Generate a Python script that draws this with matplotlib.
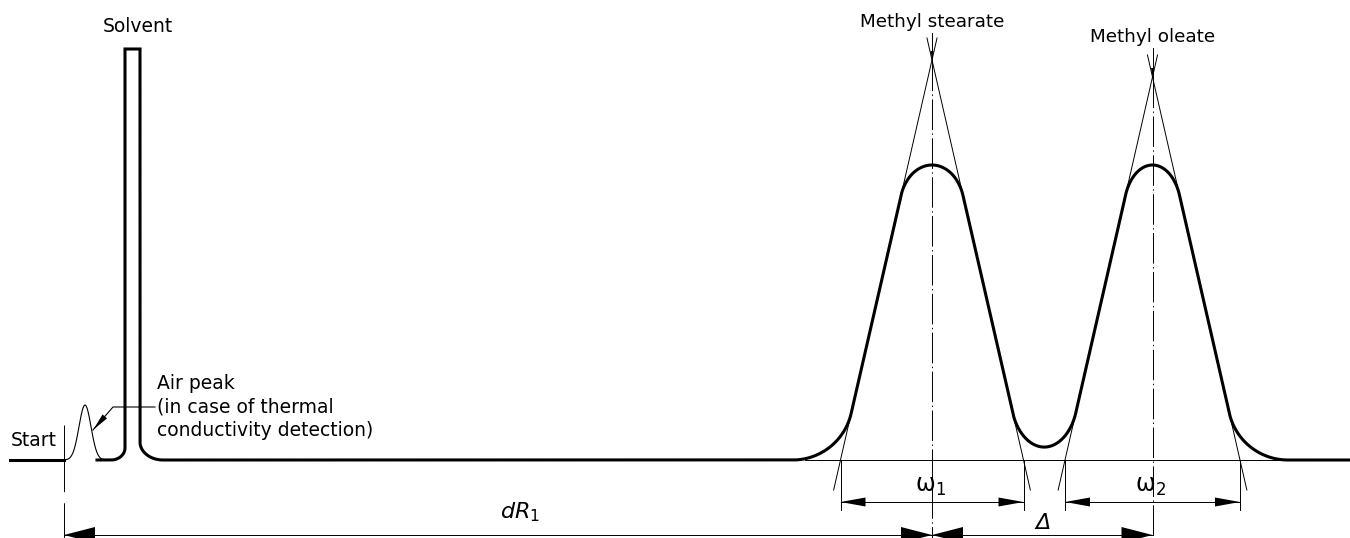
import math

import numpy as np
import matplotlib

matplotlib.use("Agg")
import matplotlib.pyplot as plt

plt.rcParams["font.family"] = ["DejaVu Sans"]
plt.rcParams["mathtext.fontset"] = "dejavusans"
plt.rcParams["lines.scale_dashes"] = False

# drawing units: retention along x, detector signal along y (baseline = 0)
trace_start = 10
trace_end = 1350
start_mark = 64

air_centre = 85
air_height = 55
air_sigma = 6.0

solvent_left = 125
solvent_right = 140
solvent_top = 411
solvent_left_corner = (14, 12)
solvent_right_corner = (23, 18)
solvent_foot_start = 97

peak_names = ["Methyl stearate", "Methyl oleate"]
peak_centres = [932, 1152.5]
peak_tops = [295, 295]
tangent_apex = [400, 383]
tangent_halfwidth = [91.5, 87.5]
cap_halfwidth = [31, 27]
foot_radius = 60.0
label_levels = [438, 423]
width_labels = [r"$\mathrm{\omega}_1$", r"$\mathrm{\omega}_2$"]

thin_baseline = (805, 1280)
tangent_over = 22
tangent_under = 30
extension_depth = -50
width_arrow_level = -42
width_label_level = -26
retention_arrow_level = -75
bottom = -78

THICK = 2.2
THIN = 0.7
FS = 13.5
centre_dash = (0, (22, 2.5, 1, 2.5))


def peak(x, centre, apex, half, top, u_cap):
    # tangent triangle with an elliptic cap and round feet
    s = apex / half
    k = math.sqrt(1 + s * s)
    drop = top - (apex - s * u_cap)
    r = drop / (s * u_cap)
    w = r / (1 - r)
    ea = u_cap / math.sqrt(1 - w * w)
    eb = drop / (1 - w)
    u_foot = half + foot_radius * (k - 1) / s
    u_line = u_foot - foot_radius * s / k

    u = np.abs(x - centre)
    y = np.zeros_like(u)
    cap = u <= u_cap
    y[cap] = top - eb * (1 - np.sqrt(1 - (u[cap] / ea) ** 2))
    side = (u > u_cap) & (u <= u_line)
    y[side] = apex - s * u[side]
    foot = (u > u_line) & (u <= u_foot)
    y[foot] = foot_radius - np.sqrt(foot_radius ** 2 - (u[foot] - u_foot) ** 2)
    return y


def arrowhead(ax, tip, toward, length, half_width):
    tx, ty = tip
    dx, dy = toward[0] - tx, toward[1] - ty
    n = math.hypot(dx, dy)
    ux, uy = dx / n, dy / n
    bx, by = tx + ux * length, ty + uy * length
    px, py = -uy * half_width, ux * half_width
    ax.fill([tx, bx + px, bx - px], [ty, by + py, by - py], color="black", lw=0)


def dimension(ax, x0, x1, y, length, half_width):
    ax.plot([x0, x1], [y, y], color="black", lw=THIN)
    arrowhead(ax, (x0, y), (x1, y), length, half_width)
    arrowhead(ax, (x1, y), (x0, y), length, half_width)


def main() -> None:
    fig = plt.figure(figsize=(13.5, 5.38), dpi=100)
    ax = fig.add_axes([0, 0, 1, 1])
    ax.set_xlim(0, 1350)
    ax.set_ylim(bottom, 460)
    ax.set_axis_off()

    # baseline before the start mark
    ax.plot([trace_start, start_mark], [0, 0], color="black", lw=THICK)

    # air peak, thin
    xa = np.linspace(air_centre - 22, air_centre + 22, 200)
    ax.plot(xa, air_height * np.exp(-0.5 * ((xa - air_centre) / air_sigma) ** 2),
            color="black", lw=0.8)

    # solvent peak outline
    lrx, lry = solvent_left_corner
    rrx, rry = solvent_right_corner
    t = np.linspace(-math.pi / 2, 0, 40)
    left_x = solvent_left - lrx + lrx * np.cos(t)
    left_y = lry + lry * np.sin(t)
    t = np.linspace(math.pi, 1.5 * math.pi, 40)
    right_x = solvent_right + rrx + rrx * np.cos(t)
    right_y = rry + rry * np.sin(t)

    xr = np.linspace(solvent_right + rrx, trace_end, 4000)
    yr = np.zeros_like(xr)
    for c, a, h, top, uc in zip(peak_centres, tangent_apex, tangent_halfwidth,
                                peak_tops, cap_halfwidth):
        yr += peak(xr, c, a, h, top, uc)

    sx = np.concatenate([[solvent_foot_start], left_x,
                         [solvent_left, solvent_right], right_x, xr])
    sy = np.concatenate([[0], left_y, [solvent_top, solvent_top], right_y, yr])
    ax.plot(sx, sy, color="black", lw=THICK, solid_joinstyle="miter")

    # start mark
    ax.plot([start_mark, start_mark], [35, bottom], color="black", lw=THIN,
            linestyle=(0, (48, 8)))

    # construction lines for the two esters
    ax.plot(thin_baseline, [0, 0], color="black", lw=THIN)
    for c, a, h, lvl, name, wl in zip(peak_centres, tangent_apex, tangent_halfwidth,
                                     label_levels, peak_names, width_labels):
        slope = a / h
        for side in (-1, 1):
            sig = np.array([-tangent_under, a + tangent_over])
            ax.plot(c + side * (a - sig) / slope, sig, color="black", lw=THIN)
            ax.plot([c + side * h, c + side * h], [0, extension_depth],
                    color="black", lw=THIN)
        ax.plot([c, c], [a, bottom], color="black", lw=THIN, linestyle=centre_dash)
        ax.plot([c, c], [lvl - 11, a], color="black", lw=THIN)
        arrowhead(ax, (c, a), (c, lvl), 9, 1.5)
        ax.text(c, lvl, name, ha="center", va="center", fontsize=13.2)
        dimension(ax, c - h, c + h, width_arrow_level, 25, 4.5)
        ax.text(c - 2, width_label_level, wl, ha="center", va="center", fontsize=17)

    # retention distances
    dimension(ax, start_mark, peak_centres[0], retention_arrow_level, 31, 8)
    dimension(ax, peak_centres[0], peak_centres[1], retention_arrow_level, 31, 8)
    ax.text(520, -52, r"$dR_1$", ha="center", va="center", fontsize=16)
    ax.text(1043, -63, "Δ", ha="center", va="center", fontsize=16, style="italic")

    # labels on the left
    ax.text(138, 433, "Solvent", ha="center", va="center", fontsize=FS)
    ax.text(57, 19, "Start", ha="right", va="center", fontsize=FS)
    ax.text(157, 53, "Air peak\n(in case of thermal\nconductivity detection)",
            ha="left", va="center", fontsize=FS, linespacing=1.28)
    ax.plot([155, 113, 93], [53, 53, 30], color="black", lw=0.8)
    arrowhead(ax, (93, 30), (113, 53), 18, 3)

    fig.savefig("out.png", dpi=100)
    plt.close(fig)


if __name__ == "__main__":
    main()
